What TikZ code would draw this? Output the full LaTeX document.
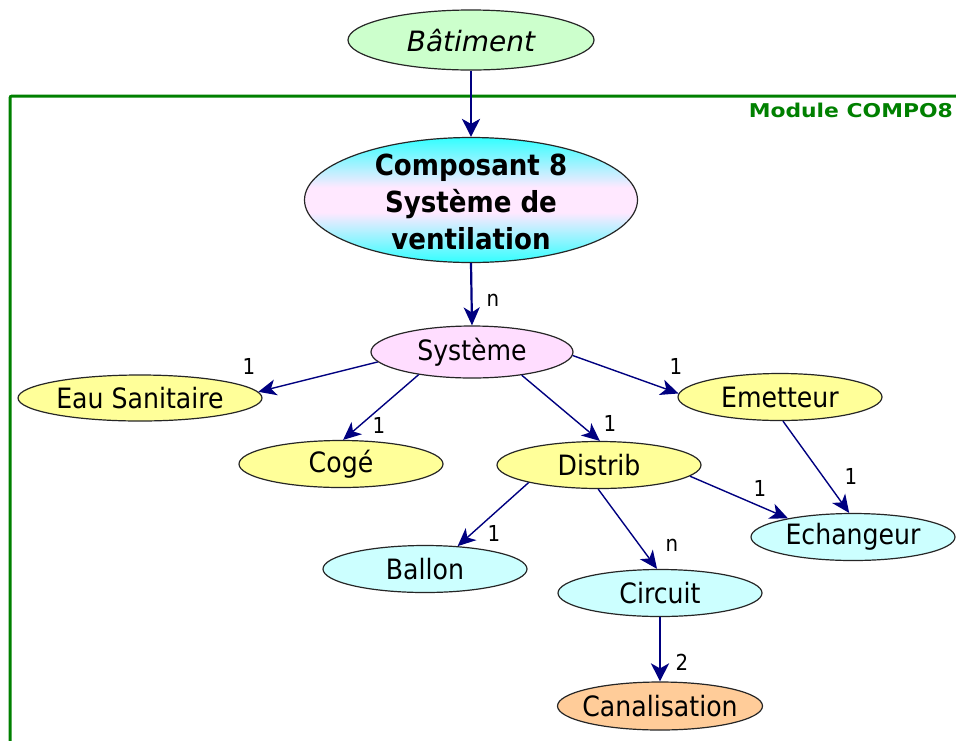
\documentclass[tikz,border=0pt]{standalone}
\usepackage{fontspec}
\setmainfont{DejaVu Sans}[FakeStretch=0.9]
\newfontfamily\batfont{DejaVu Sans}
\newfontfamily\modfont{DejaVu Sans}[FakeStretch=1.15]
\usetikzlibrary{shapes.geometric,arrows.meta}
\definecolor{arrowblue}{HTML}{000080}
\definecolor{frgreen}{HTML}{008000}
\definecolor{yelfill}{HTML}{FFFF99}
\definecolor{cyanfill}{HTML}{CCFFFF}
\definecolor{pinkfill}{HTML}{FFDDFF}
\definecolor{greenfill}{HTML}{CCFFCC}
\definecolor{orangefill}{HTML}{FFCC99}
\definecolor{cyantop}{HTML}{33FFFF}
\definecolor{pinkmid}{HTML}{FFE8FF}
\pgfdeclareverticalshading{compshade}{100bp}{color(0bp)=(cyantop); color(25bp)=(cyantop); color(45bp)=(pinkmid); color(55bp)=(pinkmid); color(75bp)=(cyantop); color(100bp)=(cyantop)}
\begin{document}
\begin{tikzpicture}[x=1pt,y=-1pt,
  ell/.style={ellipse, draw=black!85, line width=1.2pt, inner sep=0pt,
    minimum width=204pt, minimum height=47pt},
  every label/.style={font=\fontsize{28}{34}\selectfont, inner sep=0pt, text=black},
  conn/.style={draw=arrowblue, line width=1.4pt,
    -{Stealth[length=18pt,width=16pt,inset=5pt]}},
  connthick/.style={draw=arrowblue, line width=2.6pt,
    -{Stealth[length=18pt,width=18pt,inset=5pt]}},
  card/.style={font=\fontsize{22}{26}\selectfont, inner sep=0pt, text=black}]
\useasboundingbox (0,0) rectangle (956,740);
\fill[white] (0,0) rectangle (956,740);
% module frame
\draw[frgreen, line width=3pt, rounded corners=2pt] (10,760) -- (10,96) -- (980,96);
\node[anchor=base east, inner sep=0pt, text=frgreen,
  font=\modfont\bfseries\fontsize{19}{22}\selectfont] (modlbl) at (953,117) {Module COMPO8};
% nodes
\node[ell, fill=greenfill, minimum width=246pt, minimum height=60pt,
  label={[font=\batfont\itshape\fontsize{28}{34}\selectfont]center:Bâtiment}] (bat) at (471,40) {};
\node[ell, shading=compshade,
  minimum width=333pt, minimum height=125pt,
  label={[align=center, font=\bfseries\fontsize{29}{37}\selectfont, yshift=-2pt]center:Composant 8\\Système de\\ventilation}] (comp) at (471,200) {};
\node[ell, fill=pinkfill, minimum width=202pt, minimum height=52pt, label=center:Système] (sys) at (472,352) {};
\node[ell, fill=yelfill, minimum width=244pt, minimum height=46pt, label=center:Eau Sanitaire] (eau) at (140,398) {};
\node[ell, fill=yelfill, label=center:Cogé] (coge) at (341,464) {};
\node[ell, fill=yelfill, label=center:Emetteur] (emet) at (780,397) {};
\node[ell, fill=yelfill, label=center:Distrib] (dist) at (599,465) {};
\node[ell, fill=cyanfill, label=center:Echangeur] (ech) at (853,537) {};
\node[ell, fill=cyanfill, label=center:Ballon] (ball) at (425,569) {};
\node[ell, fill=cyanfill, label=center:Circuit] (circ) at (660,593) {};
\node[ell, fill=orangefill, minimum width=205pt, minimum height=48pt, label=center:Canalisation] (canal) at (660,706) {};
% connectors
\draw[connthick] (bat.south) -- (comp.north);
\draw[conn, line width=2.2pt] (comp.south) -- (sys.north);
\draw[conn] (sys.186) -- (eau.3);
\draw[conn] (sys.203) -- (coge.85);
\draw[conn] (sys.335) -- (dist.88);
\draw[conn] (sys.358) -- (emet.178);
\draw[conn] (emet.277) -- (ech.99);
\draw[conn] (dist.353) -- (ech.164);
\draw[conn] (dist.194) -- (ball.35);
\draw[conn] (dist.268) -- (circ.97);
\draw[connthick] (circ.south) -- (canal.north);
% cardinalities
\node[card] (c1) at (493,300) {n};
\node[card] (c2) at (249,366) {1};
\node[card] (c3) at (379,425) {1};
\node[card] (c4) at (610,423) {1};
\node[card] (c5) at (676,366) {1};
\node[card] (c6) at (851,476) {1};
\node[card] (c7) at (760,488) {1};
\node[card] (c8) at (494,533) {1};
\node[card] (c9) at (672,545) {n};
\node[card] (c10) at (682,662) {2};
\end{tikzpicture}
\end{document}
